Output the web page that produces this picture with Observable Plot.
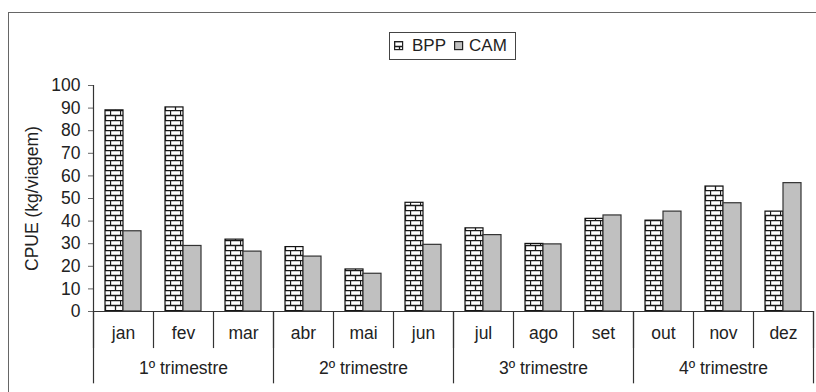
<!DOCTYPE html>
<html>
<head>
<meta charset="utf-8">
<script src="https://cdn.jsdelivr.net/npm/d3@7"></script>
<script src="https://cdn.jsdelivr.net/npm/@observablehq/plot@0.6"></script>
<style>
  html, body { margin: 0; padding: 0; background: #fff; }
  body { font-family: "Liberation Sans", Arial, sans-serif; }
  #wrap { position: relative; width: 816px; height: 392px; overflow: hidden; background: #fff; }
  #border { position: absolute; left: 8px; top: 12px; width: 1000px; height: 1000px; border: 1.5px solid #666; box-sizing: border-box; pointer-events: none; }
  #chart { position: absolute; left: 0; top: 0; }
  #legend { position: absolute; left: 389px; top: 32px; width: 127px; height: 28px; box-sizing: border-box;
            border: 1.5px solid #444; background: #fff; display: flex; align-items: center;
            font-size: 17px; color: #222; padding-left: 4px; }
  #legend .item { display: flex; align-items: center; }
  #legend svg { display: block; }
</style>
</head>
<body>
<svg width="0" height="0" style="position:absolute">
  <defs>
    <pattern id="brick" patternUnits="userSpaceOnUse" width="10" height="10">
      <rect x="0" y="0" width="10" height="10" fill="#fff"/>
      <path d="M0 0.5H10M0 5.5H10M0.5 0V5M5.5 5V10" stroke="#1a1a1a" stroke-width="1.3" fill="none"/>
    </pattern>
  </defs>
</svg>
<div id="wrap">
  <div id="chart"></div>
  <div id="border"></div>
  <div id="legend"></div>
</div>
<script>
// ---- data ----
const months = ["jan", "fev", "mar", "abr", "mai", "jun", "jul", "ago", "set", "out", "nov", "dez"];
const bpp = [89.0, 90.3, 31.8, 28.5, 18.6, 48.1, 36.8, 29.9, 41.0, 40.2, 55.3, 44.2];
const cam = [35.5, 29.0, 26.5, 24.3, 16.7, 29.5, 33.8, 29.7, 42.5, 44.2, 47.9, 56.8];
const quarters = ["1º trimestre", "2º trimestre", "3º trimestre", "4º trimestre"];
const yTicks = [0, 10, 20, 30, 40, 50, 60, 70, 80, 90, 100];
const seriesNames = ["BPP", "CAM"];
const yLabel = "CPUE (kg/viagem)";

const table = months.map((m, i) => ({i, month: m, bpp: bpp[i], cam: cam[i]}));
const monthBounds = d3.range(0, months.length + 1);
const quarterBounds = d3.range(0, months.length + 1, 3);

const FS = 17.5;
const plot = Plot.plot({
  width: 816,
  height: 392,
  marginLeft: 93,
  marginRight: 3,
  marginTop: 85,
  marginBottom: 81,
  style: {fontFamily: "'Liberation Sans', Arial, sans-serif", fontSize: FS + "px", color: "#222", background: "transparent", overflow: "visible"},
  x: {domain: [0, months.length], axis: null},
  y: {domain: [0, 100], axis: null},
  marks: [
    Plot.rectY(table, {x1: d => d.i, x2: d => d.i + 1, y1: 0, y2: "bpp", insetLeft: 12, insetRight: 30,
      fill: "url(#brick)", stroke: "#111", strokeWidth: 1.2}),
    Plot.rectY(table, {x1: d => d.i, x2: d => d.i + 1, y1: 0, y2: "cam", insetLeft: 30, insetRight: 12,
      fill: "#c0c0c0", stroke: "#333", strokeWidth: 1.2}),
    Plot.axisY(yTicks, {tickSize: 5, tickPadding: 8, fontSize: FS, label: null, stroke: "#666", fill: "#222"}),
    Plot.ruleX([0], {stroke: "#333", strokeWidth: 1.2}),
    Plot.ruleY([0], {stroke: "#333", strokeWidth: 1.2}),
    Plot.ruleX(monthBounds, {x: d => d, y1: 0, y2: -16.4, stroke: "#333", strokeWidth: 1.2}),
    Plot.ruleX(quarterBounds, {x: d => d, y1: 0, y2: -32, stroke: "#333", strokeWidth: 1.2}),
    Plot.text(table, {x: d => d.i + 0.5, text: "month", frameAnchor: "bottom", dy: 27, fontSize: FS, fill: "#222"}),
    Plot.text(quarters, {x: (d, i) => i * 3 + 1.5, text: d => d, frameAnchor: "bottom", dy: 62, fontSize: FS, fill: "#222"}),
    Plot.text([yLabel], {text: d => d, frameAnchor: "left", textAnchor: "middle", dx: -61, rotate: -90, fontSize: FS, fill: "#222"})
  ]
});
document.getElementById("chart").appendChild(plot);

// legend
const legend = d3.select("#legend");
const fills = ["url(#brick)", "#c0c0c0"];
seriesNames.forEach((name, k) => {
  const item = legend.append("div").attr("class", "item").style("margin-right", k === 0 ? "8px" : "0px");
  const sw = item.append("svg").attr("width", 10).attr("height", 10).style("margin-right", k === 0 ? "8px" : "5px");
  sw.append("rect").attr("x", 0.6).attr("y", 0.6).attr("width", 8).attr("height", 8)
    .attr("fill", fills[k]).attr("stroke", "#222").attr("stroke-width", 1.2);
  item.append("span").text(name);
});
</script>
</body>
</html>
